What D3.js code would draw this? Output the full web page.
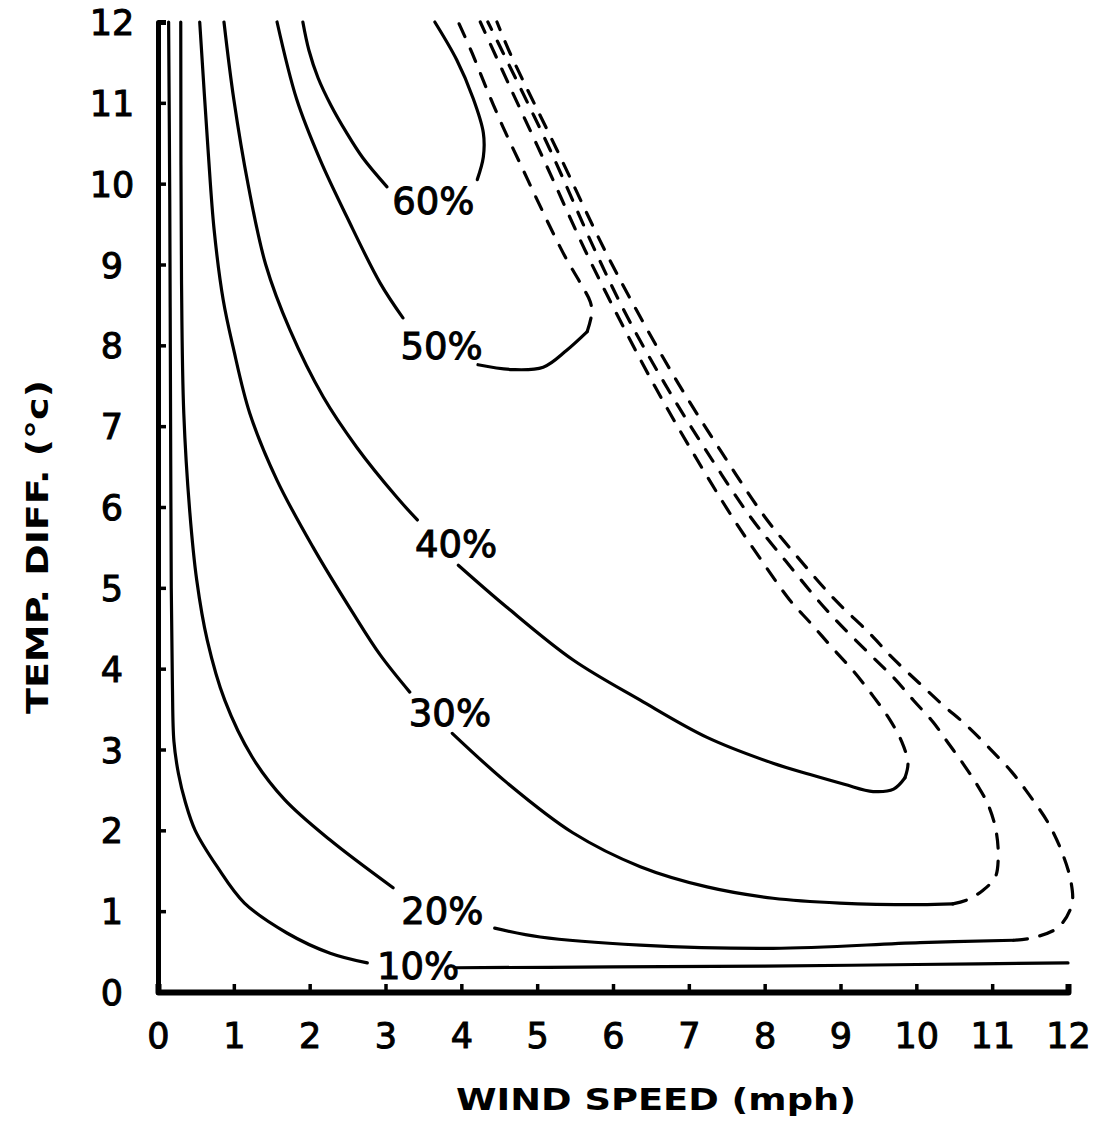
<!DOCTYPE html>
<html>
<head>
<meta charset="utf-8">
<script src="https://cdn.jsdelivr.net/npm/d3@7/dist/d3.min.js"></script>
<style>
  body { margin: 0; background: #fff; }
  text { font-family: "DejaVu Sans", sans-serif; fill: #000; }
</style>
</head>
<body>
<svg id="chart" width="1101" height="1124"></svg>
<script>
// axis ticks (wind speed in mph, temperature difference in deg C)
var xTicks = [0, 1, 2, 3, 4, 5, 6, 7, 8, 9, 10, 11, 12];
var yTicks = [0, 1, 2, 3, 4, 5, 6, 7, 8, 9, 10, 11, 12];

// contour labels and where they sit
var levelNames = ['10%', '20%', '30%', '40%', '50%', '60%'];
var labelX = [3.43, 3.75, 3.85, 3.93, 3.74, 3.63];
var labelY = [0.33, 1.01, 3.45, 5.55, 8.00, 9.79];

// contour lines, [wind, tempDiff]; left branch / right branch / dashed extrapolation
var c10Left = [[0.14, 12], [0.155, 9.8], [0.165, 7.3], [0.175, 5.0], [0.19, 3.8], [0.21, 3.1], [0.27, 2.7], [0.36, 2.35], [0.49, 2.0], [0.78, 1.55], [1.14, 1.1], [1.7, 0.73], [2.27, 0.48], [2.76, 0.36]];
var c10Right = [[3.92, 0.30], [6.0, 0.31], [8.0, 0.32], [10.0, 0.34], [12.0, 0.36]];

var c20Left = [[0.30, 12], [0.31, 8.81], [0.34, 7.16], [0.42, 5.93], [0.51, 5.10], [0.65, 4.35], [0.88, 3.61], [1.24, 2.91], [1.67, 2.38], [2.27, 1.88], [3.10, 1.29]];
var c20Right = [[4.44, 0.79], [5.04, 0.68], [6.36, 0.58], [8.11, 0.54], [10.05, 0.61], [11.28, 0.64]];
var c20Dash = [[11.28, 0.64], [11.53, 0.67], [11.87, 0.80], [12.05, 1.08], [12.04, 1.36], [11.92, 1.73], [11.74, 2.09], [11.51, 2.41], [11.26, 2.72], [10.96, 3.02], [10.66, 3.30], [10.35, 3.55], [10.04, 3.82], [9.69, 4.13], [9.38, 4.44], [8.93, 4.85], [8.47, 5.34], [8.00, 5.88], [7.41, 6.71], [6.86, 7.53], [6.36, 8.35], [5.89, 9.18], [5.26, 10.42], [4.64, 11.62], [4.47, 12]];

var c30Left = [[0.55, 12], [0.66, 10.42], [0.74, 9.43], [0.86, 8.56], [0.99, 7.98], [1.21, 7.16], [1.57, 6.33], [2.04, 5.51], [2.57, 4.69], [2.93, 4.17], [3.32, 3.71]];
var c30Right = [[3.88, 3.20], [4.60, 2.59], [5.47, 1.97], [6.36, 1.55], [7.24, 1.30], [8.11, 1.16], [8.99, 1.10], [10.05, 1.08], [10.48, 1.09]];
var c30Dash = [[10.48, 1.09], [10.67, 1.14], [10.88, 1.26], [11.04, 1.42], [11.08, 1.66], [11.05, 2.00], [10.95, 2.31], [10.81, 2.55], [10.62, 2.82], [10.42, 3.08], [10.22, 3.34], [9.97, 3.60], [9.71, 3.88], [9.44, 4.13], [9.17, 4.38], [8.94, 4.60], [8.70, 4.85], [8.27, 5.34], [7.81, 5.88], [7.22, 6.71], [6.68, 7.53], [6.19, 8.35], [5.76, 9.18], [5.17, 10.42], [4.55, 11.62], [4.35, 12]];

var c40Left = [[0.87, 12], [1.00, 11.04], [1.19, 9.98], [1.42, 9.0], [1.74, 8.19], [2.18, 7.36], [2.62, 6.74], [3.15, 6.12], [3.42, 5.84]];
var c40Right = [[3.96, 5.28], [4.60, 4.76], [5.47, 4.11], [6.36, 3.61], [7.24, 3.15], [8.11, 2.83], [8.6, 2.69], [9.05, 2.57], [9.43, 2.48], [9.70, 2.51], [9.85, 2.65]];
var c40Dash = [[9.85, 2.65], [9.89, 2.83], [9.81, 3.09], [9.65, 3.37], [9.43, 3.66], [9.17, 3.97], [8.89, 4.26], [8.60, 4.57], [8.33, 4.85], [7.95, 5.35], [7.57, 5.88], [7.03, 6.71], [6.53, 7.53], [6.07, 8.35], [5.63, 9.18], [5.13, 10.21], [4.64, 11.20], [4.25, 12]];

var c50Left = [[1.57, 12], [1.83, 11.04], [2.14, 10.29], [2.49, 9.59], [2.93, 8.77], [3.23, 8.34]];
var c50Right = [[4.22, 7.76], [4.68, 7.70], [5.08, 7.73], [5.39, 7.94], [5.66, 8.17]];
var c50Dash = [[5.66, 8.17], [5.72, 8.40], [5.70, 8.54], [5.57, 8.77], [5.39, 9.06], [5.21, 9.39], [5.00, 9.80], [4.77, 10.26], [4.55, 10.70], [4.34, 11.16], [4.14, 11.62], [3.96, 12]];

var c60Left = [[1.91, 12], [1.99, 11.65], [2.11, 11.31], [2.28, 10.97], [2.48, 10.64], [2.70, 10.32], [3.02, 9.96]];
var c60Right = [[3.65, 12], [3.94, 11.53], [4.15, 11.07], [4.29, 10.63], [4.29, 10.33], [4.21, 10.05]];

var segments = [
	{pts: c10Left, dashed: false}, {pts: c10Right, dashed: false},
	{pts: c20Left, dashed: false}, {pts: c20Right, dashed: false}, {pts: c20Dash, dashed: true},
	{pts: c30Left, dashed: false}, {pts: c30Right, dashed: false}, {pts: c30Dash, dashed: true},
	{pts: c40Left, dashed: false}, {pts: c40Right, dashed: false}, {pts: c40Dash, dashed: true},
	{pts: c50Left, dashed: false}, {pts: c50Right, dashed: false}, {pts: c50Dash, dashed: true},
	{pts: c60Left, dashed: false}, {pts: c60Right, dashed: false}
];

var margin = {top: 22, right: 33, bottom: 132, left: 158};
var width = 1101 - margin.left - margin.right;   // 910
var height = 1124 - margin.top - margin.bottom;  // 970

var svg = d3.select('#chart');
var g = svg.append('g')
	.attr('transform', 'translate(' + margin.left + ',' + margin.top + ')');

var x = d3.scaleLinear().domain([0, 12]).range([0, width]);
var y = d3.scaleLinear().domain([0, 12]).range([height, 0]);

// y axis, ticks pointing inward
var yg = g.append('g')
	.call(d3.axisLeft(y).tickValues(yTicks).tickSize(-8).tickSizeOuter(-8))
	.attr('font-size', 35)
	.attr('font-family', null);
yg.select('.domain').attr('stroke-width', 5).attr('stroke-linejoin', 'round');
yg.selectAll('.tick line').attr('stroke-width', 3.5);
yg.selectAll('.tick text')
	.attr('x', -46)
	.attr('dy', '0.36em')
	.attr('text-anchor', 'middle')
	.style('stroke', '#000')
	.style('stroke-width', 1);

// x axis
var xg = g.append('g')
	.attr('transform', 'translate(0,' + height + ')')
	.call(d3.axisBottom(x).tickValues(xTicks).tickSize(-8).tickSizeOuter(-8))
	.attr('font-size', 35)
	.attr('font-family', null);
xg.select('.domain').attr('stroke-width', 6).attr('stroke-linejoin', 'round');
xg.selectAll('.tick line').attr('stroke-width', 3.5);
xg.selectAll('.tick text')
	.attr('y', 43)
	.attr('dy', '0.36em')
	.style('stroke', '#000')
	.style('stroke-width', 1);

// contours
var line = d3.line()
	.x(function(d){ return x(d[0]); })
	.y(function(d){ return y(d[1]); })
	.curve(d3.curveCatmullRom.alpha(0.5));

g.selectAll('.contour')
	.data(segments)
	.enter().append('path')
	.attr('class', 'contour')
	.attr('d', function(d){ return line(d.pts); })
	.attr('fill', 'none')
	.attr('stroke', '#000')
	.attr('stroke-width', 3.2)
	.attr('stroke-linecap', 'round')
	.attr('stroke-dasharray', function(d){ return d.dashed ? '14,13' : null; });

g.selectAll('.level')
	.data(levelNames)
	.enter().append('text')
	.attr('class', 'level')
	.attr('x', function(d, i){ return x(labelX[i]); })
	.attr('y', function(d, i){ return y(labelY[i]); })
	.attr('dy', '0.36em')
	.attr('text-anchor', 'middle')
	.style('font-size', '37px')
	.style('stroke', '#000')
	.style('stroke-width', 1)
	.text(function(d){ return d; });

// axis titles
g.append('text')
	.attr('x', 656 - margin.left)
	.attr('y', 1110 - margin.top)
	.attr('text-anchor', 'middle')
	.attr('textLength', 400)
	.attr('lengthAdjust', 'spacingAndGlyphs')
	.style('font-size', '31px')
	.style('font-weight', 'bold')
	.text('WIND SPEED (mph)');

g.append('text')
	.attr('transform', 'translate(' + (48 - margin.left) + ',' + (547 - margin.top) + ') rotate(-90)')
	.attr('text-anchor', 'middle')
	.attr('textLength', 334)
	.attr('lengthAdjust', 'spacingAndGlyphs')
	.style('font-size', '31px')
	.style('font-weight', 'bold')
	.text('TEMP. DIFF. (°c)');
</script>
</body>
</html>
